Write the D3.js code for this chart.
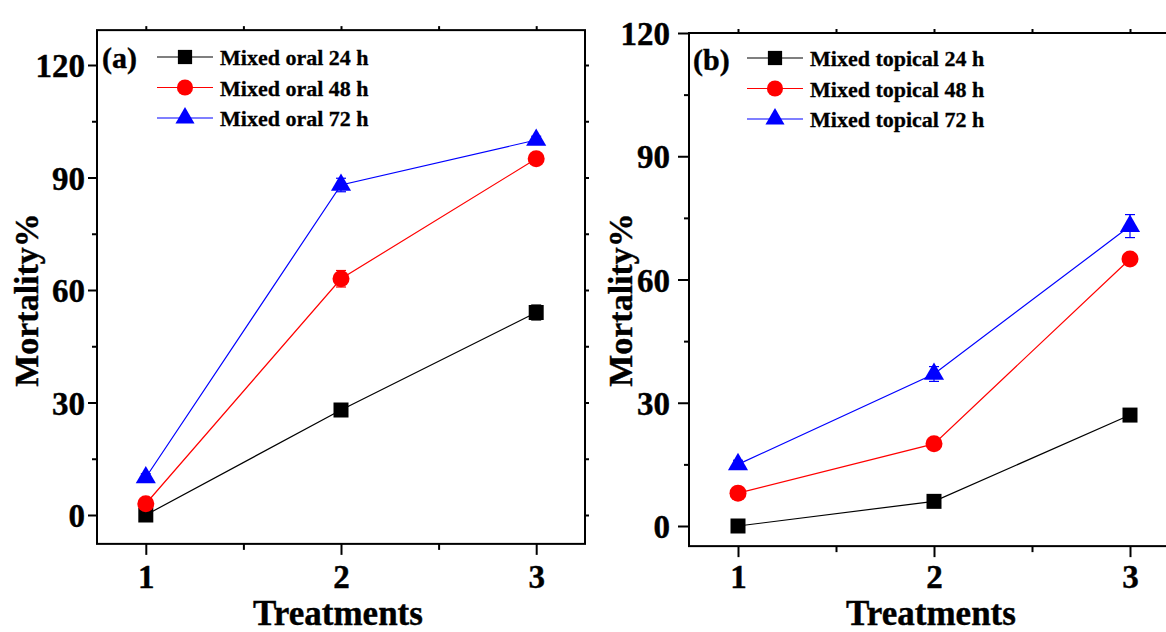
<!DOCTYPE html>
<html>
<head>
<meta charset="utf-8">
<script src="https://cdn.jsdelivr.net/npm/d3@7"></script>
<style>
  html, body { margin: 0; padding: 0; background: #fff; }
  svg { display: block; }
  text { font-family: "Liberation Serif", "Times New Roman", serif; font-weight: bold; fill: #000; }
</style>
</head>
<body>
<svg id="chart" width="1166" height="632"></svg>
<script>
// Treatments on the x axis
const treatments = [1, 2, 3];
const xMinorTicks = [1.5, 2.5];
const yTicks = [0, 30, 60, 90, 120];
const yMinorTicks = [15, 45, 75, 105];

// Panel (a): mixed oral application, mortality %
const oral24 = [0, 28, 54];
const oral48 = [3, 63, 95];
const oral72 = [10, 88, 100];
const oral24Err = [1, 1, 2];
const oral48Err = [1, 2.2, 1.5];
const oral72Err = [1, 1.8, 1];

// Panel (b): mixed topical application, mortality %
const topical24 = [0, 6, 27];
const topical48 = [8, 20, 65];
const topical72 = [15, 37, 73];
const topical24Err = [0.5, 1, 1.5];
const topical48Err = [1, 1, 1];
const topical72Err = [1, 1.8, 2.8];

const seriesColors = ["#000000", "#ff0000", "#0000ff"];
const seriesSymbols = [d3.symbolSquare, d3.symbolCircle, d3.symbolTriangle];
const symbolSizes = [225, 227, 175];

const svg = d3.select("#chart");

function drawPanel(cfg) {
  const x = d3.scaleLinear().domain([0.75, 3.25]).range(cfg.xRange);
  const y = d3.scaleLinear().domain([0, 120]).range(cfg.yRange);
  const left = x(0.75), right = x(3.25);
  const top = y(cfg.yMax), bottom = y(cfg.yMin);
  const g = svg.append("g");

  const styleAxis = sel => {
    sel.select(".domain").remove();
    sel.selectAll(".tick line").attr("stroke", "#000").attr("stroke-width", 2);
    sel.selectAll(".tick text").style("font-size", "33px").attr("fill", "#000")
      .attr("stroke", "#000").attr("stroke-width", 0.4);
  };

  // left axis: major with labels, minor without
  g.append("g").attr("transform", `translate(${left},0)`)
    .call(d3.axisLeft(y).tickValues(yTicks).tickSize(cfg.yTickLen).tickPadding(cfg.yPad).tickFormat(d3.format("d")))
    .call(styleAxis)
    .selectAll(".tick text").attr("dy", "0.35em");
  g.append("g").attr("transform", `translate(${left},0)`)
    .call(d3.axisLeft(y).tickValues(yMinorTicks).tickSize(5).tickFormat(""))
    .call(styleAxis);

  // bottom axis
  g.append("g").attr("transform", `translate(0,${bottom})`)
    .call(d3.axisBottom(x).tickValues(treatments).tickSize(11).tickPadding(cfg.xPad).tickFormat(d3.format("d")))
    .call(styleAxis);
  g.append("g").attr("transform", `translate(0,${bottom})`)
    .call(d3.axisBottom(x).tickValues(xMinorTicks).tickSize(6).tickFormat(""))
    .call(styleAxis);

  // top and right mirror ticks
  g.append("g").attr("transform", `translate(0,${top})`)
    .call(d3.axisTop(x).tickValues(treatments.concat(xMinorTicks)).tickSize(4).tickFormat(""))
    .call(styleAxis);
  g.append("g").attr("transform", `translate(${right},0)`)
    .call(d3.axisRight(y).tickValues(yTicks.concat(yMinorTicks).filter(v => v <= cfg.yMax)).tickSize(4).tickFormat(""))
    .call(styleAxis);

  // frame
  g.append("rect")
    .attr("x", left).attr("y", top)
    .attr("width", right - left).attr("height", bottom - top)
    .attr("fill", "none").attr("stroke", "#000").attr("stroke-width", 2);

  // series: lines, error bars, markers
  cfg.series.forEach((vals, i) => {
    const color = seriesColors[i];
    const errs = cfg.errors[i];
    const pts = treatments.map((t, j) => [t, vals[j], errs[j]]);
    g.append("path")
      .datum(pts)
      .attr("fill", "none").attr("stroke", color).attr("stroke-width", 1.2)
      .attr("d", d3.line().x(d => x(d[0])).y(d => y(d[1])));
    const eb = g.append("g").attr("stroke", color).attr("stroke-width", 1.2);
    pts.forEach(d => {
      const cx = x(d[0]);
      eb.append("line").attr("x1", cx).attr("x2", cx).attr("y1", y(d[1] - d[2])).attr("y2", y(d[1] + d[2]));
      [d[1] - d[2], d[1] + d[2]].forEach(v => {
        eb.append("line").attr("x1", cx - 5).attr("x2", cx + 5).attr("y1", y(v)).attr("y2", y(v));
      });
    });
    g.append("g").selectAll("path.marker").data(pts).join("path")
      .attr("class", "marker")
      .attr("transform", d => `translate(${x(d[0])},${y(d[1])})`)
      .attr("d", d3.symbol().type(seriesSymbols[i]).size(symbolSizes[i]))
      .attr("fill", color);
  });

  // legend
  const lg = g.append("g");
  cfg.legendLabels.forEach((label, i) => {
    const ly = cfg.legendY + i * 30.5;
    lg.append("line")
      .attr("x1", cfg.legendX).attr("x2", cfg.legendX + 56)
      .attr("y1", ly).attr("y2", ly)
      .attr("stroke", seriesColors[i]).attr("stroke-width", 1.2);
    lg.append("path")
      .attr("transform", `translate(${cfg.legendX + 28},${ly})`)
      .attr("d", d3.symbol().type(seriesSymbols[i]).size(symbolSizes[i] * 0.9))
      .attr("fill", seriesColors[i]);
    lg.append("text")
      .attr("x", cfg.legendX + 63).attr("y", ly + 8)
      .style("font-size", "22px")
      .attr("stroke", "#000").attr("stroke-width", 0.3)
      .text(label);
  });

  // panel tag
  g.append("text")
    .attr("x", cfg.tagX).attr("y", cfg.tagY)
    .style("font-size", "30px")
    .attr("stroke", "#000").attr("stroke-width", 0.4)
    .text(cfg.tag);

  // axis titles
  g.append("text")
    .attr("x", (x(1) + x(3)) / 2 - 3).attr("y", 625)
    .attr("text-anchor", "middle")
    .style("font-size", "35px")
    .attr("stroke", "#000").attr("stroke-width", 0.4)
    .text("Treatments");
  g.append("text")
    .attr("transform", `translate(${cfg.yTitleX},300) rotate(-90)`)
    .attr("text-anchor", "middle")
    .style("font-size", "34px")
    .attr("stroke", "#000").attr("stroke-width", 0.4)
    .text("Mortality%");
}

drawPanel({
  xRange: [97, 585],
  yRange: [515, 65],
  yMin: -7.7, yMax: 129.3,
  yTickLen: 9, yPad: 3, xPad: 10,
  series: [oral24, oral48, oral72],
  errors: [oral24Err, oral48Err, oral72Err],
  legendLabels: ["Mixed oral 24 h", "Mixed oral 48 h", "Mixed oral 72 h"],
  legendX: 157, legendY: 57,
  tag: "(a)", tagX: 102, tagY: 68,
  yTitleX: 38
});

drawPanel({
  xRange: [689, 1179],
  yRange: [526, 33],
  yMin: -4.9, yMax: 120,
  yTickLen: 11, yPad: 8, xPad: 7,
  series: [topical24, topical48, topical72],
  errors: [topical24Err, topical48Err, topical72Err],
  legendLabels: ["Mixed topical 24 h", "Mixed topical 48 h", "Mixed topical 72 h"],
  legendX: 747, legendY: 58,
  tag: "(b)", tagX: 693, tagY: 70,
  yTitleX: 632
});
</script>
</body>
</html>
